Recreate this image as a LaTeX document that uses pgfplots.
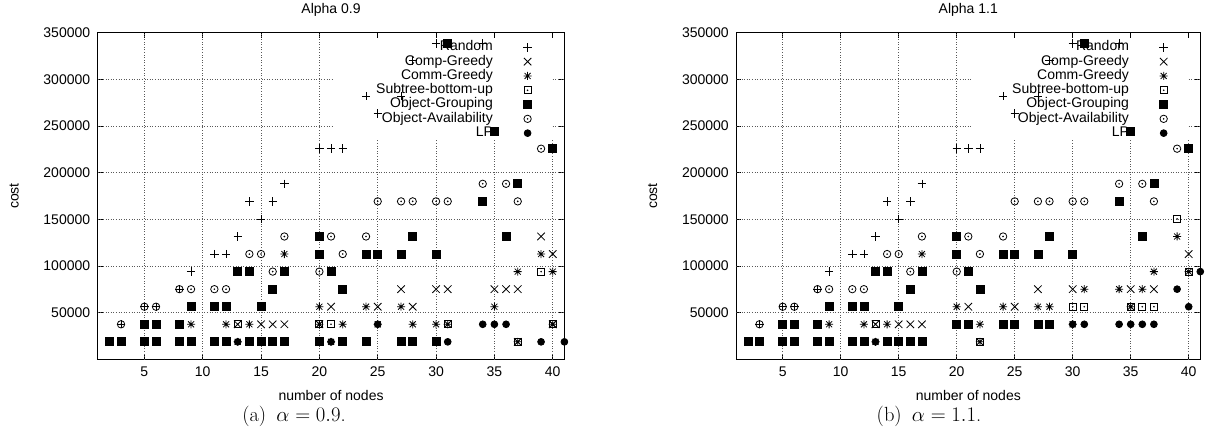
\documentclass[border=0pt]{standalone}
\usepackage{fontspec}
\usepackage{pgfplots}
\pgfplotsset{compat=1.18}
\newfontfamily\arial{Liberation Sans}
\newcommand\chartfont{\arial\fontsize{14}{14}\selectfont}

% gnuplot-like point types
\pgfdeclareplotmark{plusx}{%
  \pgfpathmoveto{\pgfqpoint{-\pgfplotmarksize}{0pt}}\pgfpathlineto{\pgfqpoint{\pgfplotmarksize}{0pt}}%
  \pgfpathmoveto{\pgfqpoint{0pt}{-\pgfplotmarksize}}\pgfpathlineto{\pgfqpoint{0pt}{\pgfplotmarksize}}%
  \pgfpathmoveto{\pgfqpoint{-.75\pgfplotmarksize}{-.75\pgfplotmarksize}}\pgfpathlineto{\pgfqpoint{.75\pgfplotmarksize}{.75\pgfplotmarksize}}%
  \pgfpathmoveto{\pgfqpoint{-.75\pgfplotmarksize}{.75\pgfplotmarksize}}\pgfpathlineto{\pgfqpoint{.75\pgfplotmarksize}{-.75\pgfplotmarksize}}%
  \pgfusepathqstroke}
\pgfdeclareplotmark{sqdot}{%
  \pgfpathrectangle{\pgfqpoint{-\pgfplotmarksize}{-\pgfplotmarksize}}{\pgfqpoint{2\pgfplotmarksize}{2\pgfplotmarksize}}\pgfusepathqstroke
  \pgfpathcircle{\pgfpointorigin}{0.9pt}\pgfusepathqfill}
\pgfdeclareplotmark{circdot}{%
  \pgfpathcircle{\pgfpointorigin}{\pgfplotmarksize}\pgfusepathqstroke
  \pgfpathcircle{\pgfpointorigin}{0.9pt}\pgfusepathqfill}

\tikzset{gridl/.style={black!65, dotted, line width=0.6pt}}

\pgfplotsset{
  panel/.style={
    scale only axis, height=326.9pt,
    xmin=1, xmax=41, ymin=0, ymax=350000,
    scaled ticks=false,
    xtick={5,10,15,20,25,30,35,40},
    xticklabels={5,10,15,20,25,30,35,40},
    ytick={50000,100000,150000,200000,250000,300000,350000},
    yticklabels={50000,100000,150000,200000,250000,300000,350000},
    tick label style={font=\chartfont},
    xticklabel style={yshift=-4.2pt},
    yticklabel style={xshift=-4pt},
    every axis title/.style={at={(axis description cs:0.5,1.069)}, anchor=center, font=\chartfont},
    every axis x label/.style={at={(axis description cs:0.5,-0.109)}, anchor=center, font=\chartfont},
    every axis y label/.style={at={(axis description cs:-0.179,0.5)}, rotate=90, anchor=center, font=\chartfont},
    tick align=inside, major tick length=5pt,
    every tick/.style={black, line width=0.6pt},
    axis line style={line width=1.1pt},
    legend plot pos=right,
    legend cell align=right,
    legend style={draw=none, fill=none, font=\chartfont,
      at={(0.937,1)}, anchor=north east, yshift=-5.5pt,
      nodes={inner sep=0pt, text height=10.5pt, text depth=3.8pt},
      column sep=30.5pt},
    mark options={line width=0.8pt, solid},
  },
  rnd/.style={only marks, mark=+, mark size=4.2pt},
  comp/.style={only marks, mark=x, mark size=5.3pt},
  comm/.style={only marks, mark=plusx, mark size=4pt},
  sub/.style={only marks, mark=sqdot, mark size=3.5pt},
  grp/.style={only marks, mark=square*, mark size=4pt},
  avail/.style={only marks, mark=circdot, mark size=3.7pt},
  lp/.style={only marks, mark=*, mark size=3.4pt},
}

\newcommand\gridlines{%
  \draw[gridl] (axis cs:5,0) -- (axis cs:5,350000);
  \draw[gridl] (axis cs:10,0) -- (axis cs:10,350000);
  \draw[gridl] (axis cs:15,0) -- (axis cs:15,350000);
  \draw[gridl] (axis cs:20,0) -- (axis cs:20,350000);
  \draw[gridl] (axis cs:25,0) -- (axis cs:25,234900);
  \draw[gridl] (axis cs:30,0) -- (axis cs:30,234900);
  \draw[gridl] (axis cs:35,0) -- (axis cs:35,234900);
  \draw[gridl] (axis cs:40,0) -- (axis cs:40,234900);
  \draw[gridl] (axis cs:1,50000) -- (axis cs:41,50000);
  \draw[gridl] (axis cs:1,100000) -- (axis cs:41,100000);
  \draw[gridl] (axis cs:1,150000) -- (axis cs:41,150000);
  \draw[gridl] (axis cs:1,200000) -- (axis cs:41,200000);
  \draw[gridl] (axis cs:1,250000) -- (axis cs:21.2,250000);
  \draw[gridl] (axis cs:40,250000) -- (axis cs:41,250000);
  \draw[gridl] (axis cs:1,300000) -- (axis cs:21.2,300000);
  \draw[gridl] (axis cs:40,300000) -- (axis cs:41,300000);
}

\begin{document}
\begin{tikzpicture}
\path[use as bounding box] (0pt,0pt) rectangle (1207pt,432pt);

% ---------------- (a) alpha = 0.9
\begin{axis}[panel, at={(97.7pt,72.6pt)}, anchor=south west, width=466.7pt,
  title={Alpha 0.9}, xlabel={number of nodes}, ylabel={cost}]
\gridlines
\addplot[rnd] coordinates {(3,37600) (5,56400) (6,56400) (8,75200) (9,94000) (11,112800) (12,112800) (13,131600) (14,169200) (15,150400) (16,169200) (17,188000) (20,225600) (21,225600) (22,225600) (24,282000) (25,263200) (27,282000) (28,319600) (30,338400) (34,338400)};
\addlegendentry{Random}
\addplot[comp] coordinates {(13,37600) (15,37600) (16,37600) (17,37600) (20,37600) (21,56400) (25,56400) (28,56400) (27,75200) (30,75200) (31,75200) (35,75200) (36,75200) (37,75200) (37,18800) (39,131600) (40,112800) (40,37600)};
\addlegendentry{Comp-Greedy}
\addplot[comm] coordinates {(9,37600) (12,37600) (14,37600) (13,18800) (17,112800) (20,56400) (20,37600) (21,18800) (22,37600) (24,56400) (25,37600) (27,56400) (28,37600) (30,37600) (31,37600) (35,56400) (37,94000) (39,112800) (40,94000) (40,37600) (37,18800)};
\addlegendentry{Comm-Greedy}
\addplot[sub] coordinates {(13,37600) (20,37600) (21,37600) (31,37600) (39,94000) (40,37600) (37,18800)};
\addlegendentry{Subtree-bottom-up}
\addplot[grp] coordinates {(2,18800) (3,18800) (5,18800) (5,37600) (6,18800) (6,37600) (8,18800) (8,37600) (9,18800) (9,56400) (11,18800) (11,56400) (12,18800) (12,56400) (13,94000) (14,18800) (14,94000) (15,18800) (15,56400) (16,18800) (16,75200) (17,18800) (17,94000) (20,18800) (20,112800) (20,131600) (21,94000) (22,18800) (22,75200) (24,18800) (24,112800) (25,112800) (27,18800) (27,112800) (28,18800) (28,131600) (30,18800) (30,112800) (31,338400) (34,169200) (35,244400) (36,131600) (37,188000) (40,225600)};
\addlegendentry{Object-Grouping}
\addplot[avail] coordinates {(3,37600) (5,56400) (6,56400) (8,75200) (9,75200) (11,75200) (12,75200) (14,112800) (15,112800) (16,94000) (17,131600) (20,94000) (21,131600) (22,112800) (24,131600) (25,169200) (27,169200) (28,169200) (30,169200) (31,169200) (34,188000) (36,188000) (37,169200) (39,225600)};
\addlegendentry{Object-Availability}
\addplot[lp] coordinates {(13,18800) (21,18800) (25,37600) (31,18800) (34,37600) (35,37600) (36,37600) (39,18800) (41,18800)};
\addlegendentry{LP}
\end{axis}

% ---------------- (b) alpha = 1.1
\begin{axis}[panel, at={(736.3pt,72.6pt)}, anchor=south west, width=464pt,
  every axis y label/.style={at={(axis description cs:-0.18,0.5)}, rotate=90, anchor=center, font=\chartfont},
  title={Alpha 1.1}, xlabel={number of nodes}, ylabel={cost}]
\gridlines
\addplot[rnd] coordinates {(3,37600) (5,56400) (6,56400) (8,75200) (9,94000) (11,112800) (12,112800) (13,131600) (14,169200) (15,150400) (16,169200) (17,188000) (20,225600) (21,225600) (22,225600) (24,282000) (25,263200) (27,282000) (28,319600) (30,338400) (34,338400)};
\addlegendentry{Random}
\addplot[comp] coordinates {(13,37600) (15,37600) (16,37600) (17,37600) (21,56400) (25,56400) (27,75200) (30,75200) (35,75200) (37,75200) (40,112800)};
\addlegendentry{Comp-Greedy}
\addplot[comm] coordinates {(9,37600) (12,37600) (14,37600) (13,18800) (17,112800) (20,56400) (24,56400) (27,56400) (28,56400) (35,56400) (22,37600) (30,37600) (31,75200) (34,75200) (36,75200) (37,94000) (39,131600) (40,94000) (22,18800)};
\addlegendentry{Comm-Greedy}
\addplot[sub] coordinates {(13,37600) (30,56400) (31,56400) (35,56400) (36,56400) (37,56400) (39,150400) (40,94000) (22,18800)};
\addlegendentry{Subtree-bottom-up}
\addplot[grp] coordinates {(2,18800) (3,18800) (5,18800) (5,37600) (6,18800) (6,37600) (8,18800) (8,37600) (9,18800) (9,56400) (11,18800) (11,56400) (12,18800) (12,56400) (13,94000) (14,18800) (14,94000) (15,18800) (15,56400) (16,18800) (16,75200) (17,18800) (17,94000) (20,37600) (21,37600) (24,37600) (25,37600) (27,37600) (28,37600) (20,112800) (20,131600) (21,94000) (22,75200) (24,112800) (25,112800) (27,112800) (28,131600) (30,112800) (31,338400) (34,169200) (35,244400) (36,131600) (37,188000) (40,225600)};
\addlegendentry{Object-Grouping}
\addplot[avail] coordinates {(3,37600) (5,56400) (6,56400) (8,75200) (9,75200) (11,75200) (12,75200) (14,112800) (15,112800) (16,94000) (17,131600) (20,94000) (21,131600) (22,112800) (24,131600) (25,169200) (27,169200) (28,169200) (30,169200) (31,169200) (34,188000) (36,188000) (37,169200) (39,225600)};
\addlegendentry{Object-Availability}
\addplot[lp] coordinates {(13,18800) (28,37600) (30,37600) (31,37600) (34,37600) (35,37600) (36,37600) (37,37600) (39,75200) (40,56400) (41,94000)};
\addlegendentry{LP}
\end{axis}

\node[font=\fontsize{20.5}{23}\selectfont] at (294pt,16pt) {(a)\enspace$\alpha = 0.9$.};
\node[font=\fontsize{20.5}{23}\selectfont] at (929pt,16pt) {(b)\enspace$\alpha = 1.1$.};
\end{tikzpicture}
\end{document}
